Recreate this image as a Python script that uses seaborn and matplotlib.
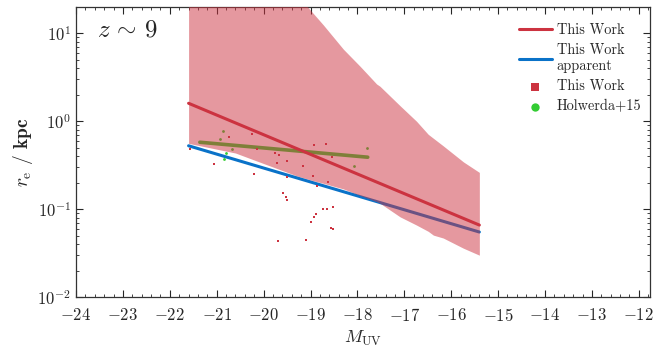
import numpy as np
import matplotlib
matplotlib.use("Agg")
import matplotlib.pyplot as plt
import seaborn as sns
from matplotlib.ticker import MultipleLocator

# fit lines (This Work, intrinsic and apparent)
fit_muv = [-21.6, -15.4]
fit_re = [1.60, 0.066]
app_re = [0.526, 0.055]

# scatter band around the fit
band_muv = [-21.6, -20.6, -19.6, -19.3, -18.97, -18.73, -18.30, -17.94, -17.59, -17.52,
            -17.09, -16.74, -16.49, -16.38, -16.17, -15.74, -15.4]
band_hi = [300, 200, 60, 28, 17.5, 12.5, 6.6, 4.2, 2.65, 2.5,
           1.5, 1.0, 0.71, 0.64, 0.525, 0.345, 0.262]
band_lo = [0.56, 0.435, 0.275, 0.24, 0.213, 0.197, 0.17, 0.143, 0.122, 0.117,
           0.0818, 0.066, 0.056, 0.0507, 0.047, 0.036, 0.030]

# This Work galaxies
tw_muv = [-20.73, -20.24, -20.15, -21.06, -19.76, -19.67, -19.72, -19.50, -20.20, -19.16,
          -18.93, -18.67, -18.54, -18.94, -18.62, -19.50, -18.87, -19.59, -19.52, -19.50,
          -18.74, -18.65, -18.53, -18.88, -18.92, -18.99, -18.57, -18.52, -19.69, -19.09,
          -21.57]
tw_re = [0.664, 0.724, 0.481, 0.330, 0.430, 0.411, 0.336, 0.351, 0.248, 0.306,
         0.534, 0.544, 0.393, 0.237, 0.204, 0.233, 0.184, 0.151, 0.139, 0.127,
         0.101, 0.0993, 0.106, 0.0871, 0.0805, 0.0712, 0.0619, 0.0598, 0.0433, 0.0448,
         0.481]

# Holwerda+15 galaxies and fit
hol_muv = [-20.87, -20.93, -20.68, -20.81, -20.85, -17.80, -18.07]
hol_re = [0.776, 0.633, 0.481, 0.441, 0.373, 0.490, 0.308]
hol_fit_muv = [-21.36, -17.78]
hol_fit_re = [0.577, 0.390]

red = "#cc3340"
blue = "#0a72c8"
green = "#33cc33"

sns.set_style("ticks")
plt.rcParams.update({
    "font.family": "serif",
    "font.serif": ["cmr10", "DejaVu Serif"],
    "mathtext.fontset": "cm",
    "axes.formatter.use_mathtext": True,
    "axes.unicode_minus": True,
    "axes.linewidth": 0.9,
    "axes.edgecolor": "#333333",
})

fig, ax = plt.subplots(figsize=(6.64, 3.58), dpi=100)
fig.subplots_adjust(left=0.1145, right=0.979, bottom=0.170, top=0.981)

sns.lineplot(x=fit_muv, y=app_re, color=blue, lw=2.2, label="This Work\napparent", ax=ax, zorder=2)
sns.lineplot(x=hol_fit_muv, y=hol_fit_re, color=green, lw=2.6, ax=ax, zorder=2)
sns.scatterplot(x=hol_muv, y=hol_re, color=green, marker="o", s=4, linewidth=0,
                label="Holwerda+15", ax=ax, zorder=2)
ax.fill_between(band_muv, band_lo, band_hi, color=red, alpha=0.5, lw=0, zorder=3)
sns.lineplot(x=fit_muv, y=fit_re, color=red, lw=2.2, label="This Work", ax=ax, zorder=4)
sns.scatterplot(x=tw_muv, y=tw_re, color=red, marker="s", s=3.5, linewidth=0,
                label="This Work", ax=ax, zorder=5)

ax.set_yscale("log")
ax.set_xlim(-24, -11.76)
ax.set_ylim(0.01, 20)
ax.xaxis.set_major_locator(MultipleLocator(1))
ax.xaxis.set_minor_locator(MultipleLocator(0.2))
ax.tick_params(which="both", direction="in", top=True, right=True, labelsize=12)
ax.tick_params(axis="x", which="both", pad=7)
ax.tick_params(which="major", length=5, width=0.8)
ax.tick_params(which="minor", length=2.5, width=0.6)

ax.set_xlabel(r"$M_{\rm UV}$", fontsize=13, labelpad=4)
ax.set_ylabel(r"$r_{\rm e}$ / $\mathbf{kpc}$", fontsize=14, labelpad=2)
ax.text(0.037, 0.92, r"$z\,\sim\,9$", transform=ax.transAxes, fontsize=18, va="center")

h, l = ax.get_legend_handles_labels()
order = [l.index("This Work"), l.index("This Work\napparent")]
order += [i for i, t in enumerate(l) if t == "This Work" and i not in order]
order += [l.index("Holwerda+15")]
leg = ax.legend([h[i] for i in order], [l[i] for i in order], loc="upper right",
                bbox_to_anchor=(1.012, 0.997),
                frameon=False, fontsize=10.3, handlelength=2.3, markerscale=3,
                borderaxespad=0.7, labelspacing=0.45, handletextpad=0.35)

fig.savefig("out.png", dpi=100)
